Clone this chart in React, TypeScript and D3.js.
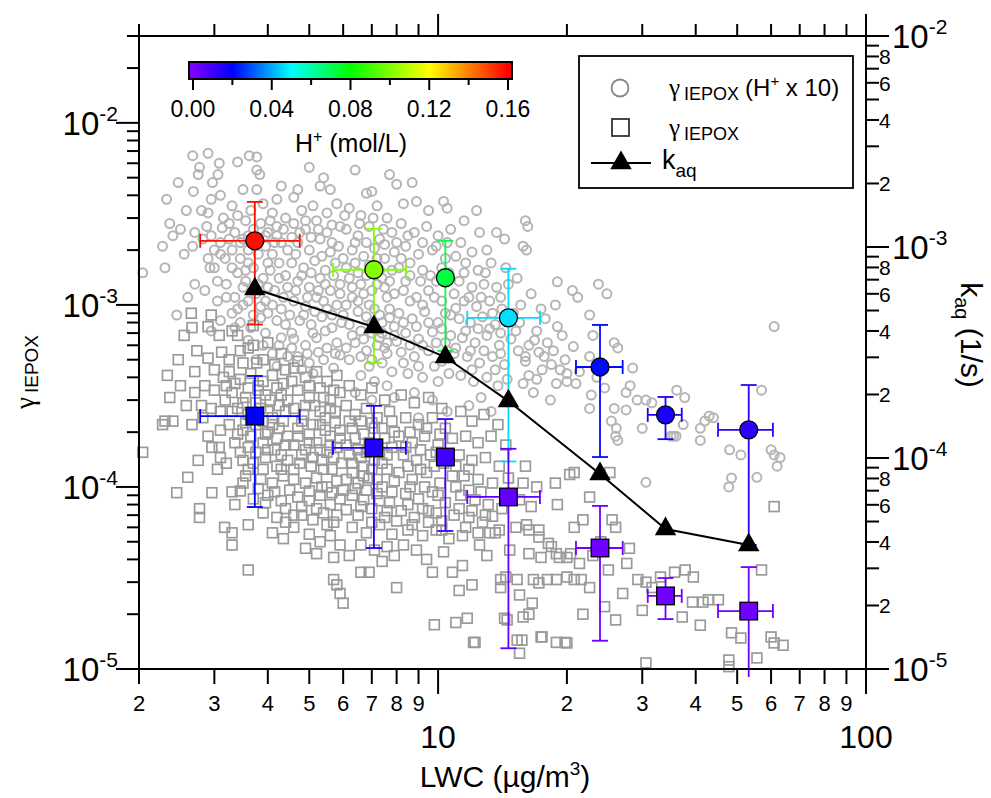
import React from 'react';
import * as d3 from 'd3';

const W = 991, H = 798;
const PL = 139, PR = 866, PT = 36, PB = 669;

// Mean values per LWC bin
const meanLWC = [3.73, 7.08, 10.4, 14.6, 23.9, 34.0, 53.2];
const lwcLow: (number | null)[] = [2.78, 5.68, null, 11.7, 21.0, 30.9, 45.1];
const lwcHigh: (number | null)[] = [4.75, 8.41, null, 17.3, 27.0, 37.1, 60.6];

const gammaH10 = [2.25e-3, 1.56e-3, 1.41e-3, 8.49e-4, 4.56e-4, 2.49e-4, 2.06e-4];
const gammaH10Low = [7.8e-4, 4.8e-4, 5.59e-4, 1.38e-4, 1.46e-4, 1.83e-4, 4.8e-5];
const gammaH10High = [3.68e-3, 2.62e-3, 2.25e-3, 1.58e-3, 7.76e-4, 3.12e-4, 3.63e-4];
const hplusH10 = [0.158, 0.1, 0.0725, 0.046, 0.021, 0.016, 0.0125];

const gammaMean = [2.45e-4, 1.64e-4, 1.46e-4, 8.81e-5, 4.62e-5, 2.52e-5, 2.08e-5];
const gammaLow = [7.76e-5, 4.62e-5, 5.73e-5, 1.3e-5, 1.43e-5, 1.88e-5, 9.0e-6];
const gammaHigh = [4.07e-4, 2.79e-4, 2.36e-4, 1.62e-4, 7.87e-5, 3.16e-5, 3.63e-5];
const hplusGamma = [0.02, 0.015, 0.01, 0.005, 0.0025, 0.0025, 0.0025];

const kaq = [6.32e-4, 4.18e-4, 3.01e-4, 1.86e-4, 8.4e-5, 4.61e-5, 3.87e-5];

// Individual observations: [LWC, gamma (H+ x 10)]
const bgCircles: [number, number][] = [
  [2.04,1.5e-3],[2.27,2.1e-3],[2.32,3.8e-3],[2.36,2.8e-3],[2.4,2.4e-3],[2.45,8.8e-4],[2.47,4.7e-3],[2.6,1.1e-3],[2.55,1.9e-3],[2.5,2.6e-3],[2.58,3.3e-3],[2.3,1.6e-3],
  [2.67,2.1e-3],[2.67,6.6e-3],[2.9,6.8e-3],[2.77,5.7e-3],[2.75,5.2e-3],[2.97,4.7e-3],[3.06,5.2e-3],[3.08,6.0e-3],[2.8,3.3e-3],[2.9,3.2e-3],[3.13,2.65e-3],[2.9,1.8e-3],[2.93,1.6e-3],[3.0,1.6e-3],[2.7,1.3e-3],[2.85,1.2e-3],[3.05,1.05e-3],[2.95,7.2e-4],[3.1,8.2e-4],[2.7,2.5e-3],[2.82,2.3e-3],[3.0,2.0e-3],[3.1,2.2e-3],[3.15,3.0e-3],[2.95,3.8e-3],[3.1,4.0e-3],[2.68,4.2e-3],[3.05,1.35e-3],[3.18,1.8e-3],[2.88,2.7e-3],
  [3.2,1.3e-3],[3.3,9.0e-4],[3.4,6.1e-3],[3.62,6.6e-3],[3.77,6.5e-3],[3.77,5.5e-3],[3.83,5.2e-3],[3.5,4.3e-3],[3.77,4.3e-3],[3.3,3.5e-3],[3.4,3.1e-3],[3.55,2.9e-3],[3.65,3.3e-3],[3.9,3.6e-3],[4.1,3.2e-3],[4.3,4.5e-3],[4.2,3.8e-3],[3.35,2.5e-3],[3.5,2.3e-3],[3.7,2.6e-3],[3.85,2.8e-3],[4.0,2.5e-3],[4.2,2.7e-3],[4.4,3.0e-3],[3.3,2.0e-3],[3.45,1.8e-3],[3.6,2.0e-3],[3.95,2.1e-3],[4.1,1.9e-3],[4.3,2.2e-3],[4.45,2.0e-3],[3.4,1.5e-3],[3.55,1.35e-3],[3.7,1.6e-3],[3.9,1.4e-3],[4.05,1.55e-3],[4.25,1.7e-3],[4.4,1.45e-3],[3.35,1.1e-3],[3.5,1.0e-3],[3.75,1.15e-3],[3.95,1.05e-3],[4.15,1.2e-3],[4.35,1.1e-3],[3.45,8.0e-4],[3.65,7.5e-4],[3.85,8.5e-4],[4.0,9.0e-4],[4.2,8.2e-4],[4.4,7.8e-4],[3.6,6.4e-4],[3.9,6.0e-4],[4.1,5.4e-4],[4.3,6.6e-4],[3.75,5.0e-4],[4.45,5.2e-4],[4.2,4.6e-4],[3.5,1.25e-3],[4.05,2.9e-3],
  [4.6,3.9e-3],[4.7,4.3e-3],[5.0,5.7e-3],[5.3,4.5e-3],[5.4,5.0e-3],[5.6,4.3e-3],[4.8,3.3e-3],[5.1,3.5e-3],[5.5,3.2e-3],[5.8,3.6e-3],[4.6,2.8e-3],[4.9,2.6e-3],[5.2,2.9e-3],[5.5,2.5e-3],[5.9,2.7e-3],[4.7,2.2e-3],[5.0,2.0e-3],[5.3,2.3e-3],[5.6,1.95e-3],[5.85,2.1e-3],[4.55,1.7e-3],[4.85,1.6e-3],[5.15,1.75e-3],[5.45,1.55e-3],[5.75,1.7e-3],[4.7,1.35e-3],[5.0,1.25e-3],[5.3,1.4e-3],[5.6,1.2e-3],[5.9,1.3e-3],[4.6,1.05e-3],[4.9,9.8e-4],[5.2,1.1e-3],[5.5,9.5e-4],[5.8,1.0e-3],[4.75,8.2e-4],[5.05,7.8e-4],[5.35,8.6e-4],[5.65,7.5e-4],[5.95,8.0e-4],[4.6,6.5e-4],[4.9,6.0e-4],[5.2,6.6e-4],[5.5,5.8e-4],[5.8,6.2e-4],[4.7,5.2e-4],[5.0,4.8e-4],[5.4,5.0e-4],[5.7,4.5e-4],[5.1,4.2e-4],[5.9,5.3e-4],[4.8,4.4e-4],
  [6.4,5.5e-3],[6.8,4.1e-3],[7.0,4.2e-3],[7.7,5.2e-3],[6.2,3.4e-3],[6.6,3.1e-3],[7.2,3.5e-3],[7.6,3.0e-3],[6.1,2.6e-3],[6.5,2.4e-3],[6.9,2.7e-3],[7.3,2.3e-3],[7.8,2.5e-3],[6.3,2.0e-3],[6.7,1.85e-3],[7.1,2.05e-3],[7.5,1.8e-3],[7.9,1.95e-3],[6.1,1.6e-3],[6.5,1.5e-3],[6.9,1.65e-3],[7.4,1.4e-3],[7.8,1.55e-3],[6.3,1.25e-3],[6.7,1.15e-3],[7.2,1.3e-3],[7.6,1.1e-3],[6.1,1.0e-3],[6.5,9.2e-4],[6.9,1.0e-3],[7.3,8.8e-4],[7.7,9.5e-4],[6.2,7.8e-4],[6.6,7.2e-4],[7.0,8.0e-4],[7.4,7.0e-4],[7.9,7.6e-4],[6.4,6.2e-4],[6.8,5.6e-4],[7.2,6.0e-4],[7.6,5.4e-4],[6.2,5.0e-4],[6.9,4.6e-4],[7.4,4.8e-4],[7.8,4.3e-4],[6.6,4.1e-4],[7.1,3.8e-4],[7.6,3.6e-4],[6.4,3.3e-4],[7.9,3.1e-4],[7.0,3.0e-4],
  [8.0,4.6e-3],[8.7,4.7e-3],[8.3,3.6e-3],[8.9,3.7e-3],[9.5,3.3e-3],[10.3,3.7e-3],[10.5,3.4e-3],[8.2,2.8e-3],[8.8,2.5e-3],[9.4,2.7e-3],[10.0,2.4e-3],[10.7,2.6e-3],[8.4,2.1e-3],[9.0,1.9e-3],[9.7,2.0e-3],[10.4,1.8e-3],[8.1,1.6e-3],[8.6,1.45e-3],[9.2,1.55e-3],[9.9,1.35e-3],[10.6,1.5e-3],[8.3,1.2e-3],[8.9,1.1e-3],[9.5,1.2e-3],[10.2,1.05e-3],[10.9,1.15e-3],[8.1,9.0e-4],[8.7,8.4e-4],[9.3,9.2e-4],[10.0,8.0e-4],[10.7,8.8e-4],[8.4,7.0e-4],[9.0,6.5e-4],[9.7,7.1e-4],[10.4,6.2e-4],[8.2,5.5e-4],[8.8,5.2e-4],[9.5,5.6e-4],[10.2,4.9e-4],[10.9,5.4e-4],[8.5,4.2e-4],[9.2,4.0e-4],[10.0,3.8e-4],[10.6,4.2e-4],[8.8,3.3e-4],[9.7,3.0e-4],[10.5,2.6e-4],[9.0,2.4e-4],
  [11.5,2.9e-3],[12.3,3.3e-3],[12.5,2.5e-3],[13.7,2.5e-3],[14.3,2.3e-3],[11.3,2.2e-3],[12.0,1.95e-3],[13.0,2.0e-3],[11.6,1.7e-3],[12.4,1.55e-3],[13.3,1.7e-3],[14.4,1.6e-3],[11.2,1.35e-3],[12.0,1.25e-3],[13.7,1.25e-3],[12.8,1.3e-3],[14.6,1.3e-3],[11.5,1.05e-3],[12.3,9.8e-4],[13.2,1.05e-3],[14.1,9.5e-4],[11.2,8.4e-4],[11.9,8.0e-4],[12.7,8.6e-4],[13.6,7.8e-4],[14.6,8.2e-4],[11.4,6.6e-4],[12.2,6.2e-4],[13.0,6.8e-4],[13.9,6.0e-4],[14.8,6.5e-4],[11.7,5.2e-4],[12.5,4.8e-4],[13.4,5.2e-4],[14.3,4.7e-4],[11.3,4.1e-4],[12.1,3.8e-4],[13.0,4.0e-4],[13.8,3.6e-4],[12.6,3.1e-4],[11.8,2.8e-4],[13.3,2.6e-4],[14.5,3.9e-4],
  [16.0,2.9e-3],[16.2,2.7e-3],[15.8,2.1e-3],[16.1,2.0e-3],[15.3,1.4e-3],[19.0,1.34e-3],[20.6,1.2e-3],[21.2,1.1e-3],[18.8,1.0e-3],[16.5,1.15e-3],[17.4,9.5e-4],[15.6,1.0e-3],[19.0,7.6e-4],[19.5,6.8e-4],[16.3,6.0e-4],[17.2,5.5e-4],[17.7,5.2e-4],[20.7,5.9e-4],[18.4,4.7e-4],[19.3,4.4e-4],[20.0,4.2e-4],[21.4,4.3e-4],[16.3,4.1e-4],[17.0,3.9e-4],[15.8,3.7e-4],[18.9,3.7e-4],[20.0,3.8e-4],[21.0,3.7e-4],[15.5,8.0e-4],[17.0,7.2e-4],[16.0,4.9e-4],[18.0,6.2e-4],[15.4,5.6e-4],[17.8,8.4e-4],[16.7,3.3e-4],[18.3,3.0e-4],
  [23.7,1.3e-3],[24.8,1.15e-3],[22.6,8.8e-4],[22.6,5.2e-4],[25.8,6.2e-4],[26.3,5.8e-4],[22.6,2.7e-4],[28.1,3.6e-4],[27.5,3.3e-4],[29.2,3.0e-4],[30.6,3.0e-4],[31.6,2.9e-4],[25.8,2.7e-4],[27.5,2.65e-4],[25.4,2.3e-4],[26.1,2.1e-4],[30.0,2.1e-4],[26.0,1.9e-4],[26.3,1.8e-4],[30.6,1.06e-4],[23.5,4.0e-4],[24.5,3.5e-4],[22.8,3.2e-4],[28.5,4.5e-4],[23.0,6.8e-4],
  [36.1,3.4e-4],[37.7,3.1e-4],[37.4,2.2e-4],[41.0,2.1e-4],[42.0,2.3e-4],[44.0,2.4e-4],[35.5,1.9e-4],[41.0,1.8e-4],[35.0,1.9e-4],[36.0,1.9e-4],[43.0,2.45e-4],
  [48,1.6e-4],[51,1.5e-4],[61,7.6e-4],[57,3.4e-4],[60,1.6e-4],[61,1.5e-4],[63,1.45e-4],[62,1.3e-4],[55.6,1.13e-4],[48.5,1.12e-4],[47.8,1.0e-4],
  [3.25,2.8e-3],[3.45,2.2e-3],[3.6,1.7e-3],[3.8,1.9e-3],[3.95,2.4e-3],[4.15,2.2e-3],[4.35,2.6e-3],[3.3,1.6e-3],[3.55,1.55e-3],[3.8,1.3e-3],[4.0,1.25e-3],[4.25,1.4e-3],[4.45,1.25e-3],[3.6,1.05e-3],[3.85,9.8e-4],[4.1,1.0e-3],[4.3,9.5e-4],[3.4,9.5e-4],[3.7,8.8e-4],[4.5,8.8e-4],[4.65,1.2e-3],[4.8,1.45e-3],[5.05,1.5e-3],[5.25,1.2e-3],[5.45,1.3e-3],[5.7,1.45e-3],[4.95,1.1e-3],[5.15,9.2e-4],[5.4,1.05e-3],[5.65,8.8e-4],[5.9,1.15e-3],[4.85,8.8e-4],[5.1,7.0e-4],[5.45,7.2e-4],[5.75,5.4e-4],[5.25,5.5e-4],[4.55,5.8e-4],[4.95,5.4e-4],[4.75,2.5e-3],[5.05,2.35e-3],[5.35,1.85e-3],[5.65,2.2e-3],[4.65,1.9e-3],
  [6.0,1.8e-3],[6.2,1.4e-3],[6.4,1.7e-3],[6.6,1.3e-3],[6.8,1.45e-3],[7.0,1.2e-3],[7.3,1.55e-3],[7.5,1.25e-3],[7.7,1.35e-3],[7.9,1.15e-3],[6.3,1.1e-3],[6.5,1.05e-3],[6.8,8.6e-4],[7.1,9.5e-4],[7.4,8.0e-4],[7.7,8.5e-4],[6.0,8.8e-4],[6.3,6.8e-4],[6.7,6.5e-4],[7.0,7.0e-4],[7.3,6.6e-4],[7.6,6.2e-4],[7.9,6.8e-4],[6.1,5.8e-4],[6.6,5.2e-4],[7.0,5.0e-4],[7.5,5.8e-4],[6.4,2.2e-3],[6.8,2.2e-3],[7.2,1.8e-3],[7.5,2.15e-3],
  [8.2,1.8e-3],[8.6,1.7e-3],[9.1,1.35e-3],[9.6,1.45e-3],[10.2,1.6e-3],[8.4,1.35e-3],[8.6,1.05e-3],[9.2,1.0e-3],[9.8,1.1e-3],[10.4,9.0e-4],[8.3,8.0e-4],[8.9,7.6e-4],[9.5,8.0e-4],[10.2,7.4e-4],[8.6,6.0e-4],[9.2,6.0e-4],[9.9,6.2e-4],[10.7,6.8e-4],[8.0,6.3e-4],[8.3,4.8e-4],[9.0,4.6e-4],[9.8,4.6e-4],[10.5,5.6e-4],
  [11.0,9.6e-4],[11.8,1.1e-3],[12.6,1.1e-3],[13.4,9.0e-4],[11.6,7.2e-4],[12.4,7.4e-4],[13.2,7.4e-4],[14.0,7.0e-4],[11.0,5.8e-4],[11.9,5.6e-4],[12.8,5.6e-4],[13.6,4.4e-4],[12.0,4.4e-4],[14.0,5.4e-4],[11.5,1.5e-3],[12.9,1.5e-3],[14.0,1.1e-3],[15.0,9.0e-4],[15.2,7.2e-4],[16.8,6.4e-4],[16.0,5.2e-4],[17.5,4.4e-4],[18.6,5.6e-4],[19.8,5.0e-4],
  [3.1,1.9e-3],[3.25,2.3e-3],[2.95,2.4e-3],[3.2,1.1e-3],[3.35,7.5e-4],[3.95,7.0e-4],[4.25,6.0e-4],[4.55,7.0e-4],[3.75,2.2e-3],[4.2,2.4e-3],[4.0,1.7e-3],[3.6,2.4e-3],[4.55,2.35e-3],[4.9,2.9e-3],[5.25,2.6e-3],[5.65,2.75e-3],[6.05,3.1e-3],[6.55,2.8e-3],[7.05,3.0e-3],[7.45,2.6e-3],[8.0,2.2e-3],[8.5,2.4e-3],[9.2,2.2e-3],[9.9,2.1e-3],[10.5,2.2e-3],[11.0,1.85e-3],
];

// Individual observations: [LWC, gamma]
const bgSquares: [number, number][] = [
  [2.04,1.55e-4],[2.27,2.2e-4],[2.3,2.3e-4],[2.4,2.3e-4],[2.33,4.1e-4],[2.47,5.0e-4],[2.36,3.1e-4],[2.6,1.13e-4],[2.45,9.3e-5],[2.55,6.8e-4],[2.5,3.6e-4],[2.58,2.8e-4],
  [2.66,2.2e-4],[2.77,7.6e-5],[2.77,6.8e-5],[3.17,6.0e-5],[2.96,9.3e-5],[2.73,5.6e-4],[2.9,5.1e-4],[2.66,7.5e-4],[2.9,7.6e-4],[3.08,6.8e-4],[2.85,3.6e-4],[3.0,3.4e-4],[2.9,1.9e-4],[2.96,1.65e-4],[3.08,1.65e-4],[2.7,4.3e-4],[2.8,2.8e-4],[3.1,2.6e-4],[3.15,4.0e-4],[2.75,1.4e-4],[3.05,1.25e-4],[2.65,9.0e-4],[2.95,8.8e-4],[3.12,5.5e-4],[2.82,2.4e-4],[3.18,3.0e-4],[2.7,3.3e-4],[3.1,1.45e-4],
  [3.3,9.4e-5],[3.35,8.0e-5],[3.2,1.35e-4],[3.5,1.4e-4],[3.4,6.8e-4],[3.5,4.8e-4],[3.77,4.8e-4],[3.7,7.7e-4],[3.3,7.2e-4],[3.6,5.8e-4],[4.0,6.2e-4],[4.3,5.4e-4],[3.25,4.3e-4],[3.45,3.9e-4],[3.65,4.2e-4],[3.9,3.8e-4],[4.1,4.1e-4],[4.35,3.7e-4],[3.3,3.3e-4],[3.55,3.1e-4],[3.8,3.4e-4],[4.05,3.0e-4],[4.3,3.2e-4],[3.4,2.7e-4],[3.6,2.5e-4],[3.85,2.7e-4],[4.1,2.4e-4],[4.4,2.6e-4],[3.25,2.2e-4],[3.5,2.05e-4],[3.75,2.2e-4],[4.0,2.0e-4],[4.25,2.1e-4],[4.45,1.9e-4],[3.35,1.75e-4],[3.6,1.65e-4],[3.9,1.75e-4],[4.15,1.6e-4],[4.4,1.7e-4],[3.7,1.35e-4],[3.95,1.45e-4],[4.2,1.3e-4],[4.45,1.4e-4],[3.55,1.15e-4],[3.85,1.1e-4],[4.1,1.05e-4],[4.35,1.15e-4],[3.45,9.5e-5],[3.7,8.6e-5],[4.0,9.0e-5],[4.3,8.4e-5],[3.9,7.2e-5],[4.2,6.8e-5],[4.4,7.6e-5],[3.6,6.2e-5],[4.1,5.6e-5],[4.35,5.2e-5],[3.8,3.6e-4],[3.9,2.3e-4],[3.3,5.6e-5],[3.6,3.5e-5],[3.3,4.8e-5],
  [4.6,4.5e-4],[4.9,4.0e-4],[5.2,4.3e-4],[5.5,3.8e-4],[5.8,4.1e-4],[4.7,3.4e-4],[5.0,3.1e-4],[5.3,3.5e-4],[5.6,3.0e-4],[5.9,3.3e-4],[4.6,2.7e-4],[4.85,2.5e-4],[5.15,2.8e-4],[5.45,2.4e-4],[5.75,2.6e-4],[4.7,2.1e-4],[5.0,1.95e-4],[5.3,2.2e-4],[5.6,1.9e-4],[5.9,2.05e-4],[4.6,1.7e-4],[4.9,1.6e-4],[5.2,1.75e-4],[5.5,1.55e-4],[5.8,1.65e-4],[4.75,1.35e-4],[5.05,1.3e-4],[5.35,1.4e-4],[5.65,1.25e-4],[5.95,1.35e-4],[4.6,1.1e-4],[4.9,1.05e-4],[5.2,1.12e-4],[5.5,1.0e-4],[5.8,1.08e-4],[4.7,8.8e-5],[5.0,8.4e-5],[5.3,9.0e-5],[5.6,8.0e-5],[5.9,8.6e-5],[4.8,7.0e-5],[5.1,6.6e-5],[5.4,7.2e-5],[5.7,6.4e-5],[4.6,6.0e-5],[5.0,5.5e-5],[5.3,5.0e-5],[5.6,5.4e-5],[5.9,4.8e-5],[5.2,4.3e-5],[5.7,4.1e-5],[4.9,4.6e-5],[5.7,3.1e-5],[5.9,2.6e-5],[6.0,2.3e-5],[5.8,2.9e-5],
  [6.2,3.6e-4],[6.6,3.2e-4],[7.0,3.5e-4],[7.5,3.0e-4],[6.1,2.8e-4],[6.4,2.5e-4],[6.8,2.7e-4],[7.2,2.4e-4],[7.7,2.6e-4],[6.3,2.1e-4],[6.7,1.95e-4],[7.1,2.1e-4],[7.5,1.85e-4],[7.9,2.0e-4],[6.1,1.7e-4],[6.5,1.6e-4],[6.9,1.75e-4],[7.3,1.55e-4],[7.8,1.65e-4],[6.3,1.35e-4],[6.7,1.3e-4],[7.1,1.4e-4],[7.6,1.25e-4],[6.1,1.1e-4],[6.5,1.05e-4],[6.9,1.12e-4],[7.4,1.0e-4],[7.9,1.08e-4],[6.3,9.0e-5],[6.7,8.5e-5],[7.2,9.2e-5],[7.7,8.2e-5],[6.1,7.5e-5],[6.5,7.0e-5],[7.0,7.6e-5],[7.5,6.8e-5],[6.3,6.0e-5],[6.8,5.6e-5],[7.3,6.2e-5],[7.8,5.5e-5],[6.6,4.8e-5],[7.1,4.5e-5],[7.6,4.7e-5],[6.6,3.4e-5],[6.9,3.4e-5],[8.0,2.8e-5],[6.2,4.2e-5],[7.4,3.9e-5],[7.9,4.2e-5],
  [8.2,3.2e-4],[8.8,2.9e-4],[9.5,3.1e-4],[10.2,2.7e-4],[8.4,2.4e-4],[9.0,2.2e-4],[9.7,2.4e-4],[10.4,2.1e-4],[8.1,1.9e-4],[8.7,1.75e-4],[9.3,1.9e-4],[10.0,1.7e-4],[10.8,1.85e-4],[8.3,1.5e-4],[8.9,1.4e-4],[9.6,1.5e-4],[10.3,1.35e-4],[8.1,1.2e-4],[8.7,1.1e-4],[9.4,1.2e-4],[10.1,1.05e-4],[10.8,1.15e-4],[8.4,9.2e-5],[9.0,8.6e-5],[9.7,9.4e-5],[10.4,8.2e-5],[8.2,7.4e-5],[8.8,6.8e-5],[9.5,7.4e-5],[10.2,6.5e-5],[10.9,7.0e-5],[8.5,5.8e-5],[9.2,5.4e-5],[9.9,5.8e-5],[10.6,5.2e-5],[8.9,4.5e-5],[9.7,3.4e-5],[10.8,3.4e-5],[9.8,1.75e-5],[10.3,4.4e-5],[8.3,4.8e-5],[9.4,4.0e-5],
  [11.4,3.7e-5],[11.2,2.7e-5],[12.0,2.9e-5],[11.0,1.8e-5],[11.7,1.9e-5],[12.2,1.4e-5],[14.3,1.9e-5],[14.0,3.1e-5],[14.4,3.2e-5],[14.0,2.8e-5],[13.6,5.6e-5],[13.9,5.8e-5],[12.1,1.4e-5],[14.5,1.86e-5],[11.3,2.6e-4],[12.0,2.3e-4],[12.8,2.5e-4],[13.8,2.2e-4],[11.6,1.9e-4],[12.4,1.75e-4],[13.3,1.9e-4],[14.4,1.7e-4],[11.2,1.5e-4],[12.0,1.4e-4],[12.9,1.45e-4],[13.9,1.3e-4],[11.5,1.15e-4],[12.4,1.1e-4],[13.4,1.05e-4],[14.6,1.12e-4],[11.3,9.0e-5],[12.2,8.5e-5],[13.1,8.0e-5],[14.1,7.6e-5],[11.8,6.8e-5],[12.7,6.4e-5],[13.4,6.9e-5],[11.4,5.4e-5],[12.5,4.8e-5],[13.0,4.2e-5],[14.7,4.5e-5],
  [15.3,3.1e-5],[15.5,2.55e-5],[16.7,3.1e-5],[17.2,2.97e-5],[18.0,3.1e-5],[18.9,3.1e-5],[20.0,3.2e-5],[20.8,3.1e-5],[21.6,3.1e-5],[16.3,2.0e-5],[16.6,2.3e-5],[16.1,6.2e-5],[17.2,5.8e-5],[16.3,4.3e-5],[17.4,4.1e-5],[18.4,4.7e-5],[19.2,4.1e-5],[20.4,4.3e-5],[21.4,3.8e-5],[15.7,1.44e-5],[15.5,1.22e-5],[17.5,1.5e-5],[18.9,1.4e-5],[19.8,1.4e-5],[21.8,2.0e-5],[20.8,6.0e-5],[21.8,6.6e-5],[18.8,1.05e-4],[20.3,1.17e-4],[20.8,1.2e-4],[18.9,4.3e-5],[20.0,4.1e-5],[15.2,6.0e-5],[16.3,5.8e-5],[17.2,5.3e-5],[18.1,4.9e-5],[15.8,1.93e-5],[15.3,1.44e-5],[17.4,1.5e-5],[20.0,1.39e-5],[16.0,1.3e-4],[17.0,1.0e-4],[15.5,8.5e-5],[16.5,7.8e-5],[19.0,8.0e-5],[15.8,1.05e-4],
  [22.6,2.8e-5],[22.6,8.8e-5],[25.2,1.2e-4],[25.5,6.6e-5],[26.0,6.0e-5],[26.0,1.86e-5],[27.6,3.8e-5],[29.3,3.1e-5],[30.6,3.0e-5],[31.6,2.8e-5],[30.0,2.1e-5],[30.6,1.08e-5],[24.0,5.0e-5],[23.0,4.2e-5],[25.0,3.5e-5],[27.0,2.6e-5],[28.0,4.6e-5],[24.5,2.2e-5],
  [33.1,3.2e-5],[37.8,3.5e-5],[39.5,3.2e-5],[35.7,3.4e-5],[39.3,2.33e-5],[41.6,2.33e-5],[42.8,2.4e-5],[45.2,2.4e-5],[37.2,1.93e-5],[41.0,1.74e-5],
  [57,3.5e-5],[61,7.8e-5],[48.5,1.58e-5],[51,1.48e-5],[60,1.5e-5],[61,1.39e-5],[64,1.35e-5],[55.6,1.15e-5],[47.8,1.12e-5],[47.8,1.03e-5],
  [3.35,3.7e-4],[3.6,3.5e-4],[3.95,3.2e-4],[4.2,3.5e-4],[4.45,3.0e-4],[3.5,2.9e-4],[3.75,2.9e-4],[4.0,2.6e-4],[4.25,2.8e-4],[3.3,2.6e-4],[3.55,2.25e-4],[3.8,2.4e-4],[4.1,2.2e-4],[4.35,2.3e-4],[3.4,1.95e-4],[3.65,1.9e-4],[3.95,1.95e-4],[4.2,1.85e-4],[3.45,1.55e-4],[3.75,1.55e-4],[4.0,1.6e-4],[4.3,1.5e-4],[3.6,1.25e-4],[3.9,1.25e-4],[4.3,1.25e-4],[4.6,1.25e-4],[4.8,1.5e-4],[5.1,1.45e-4],[5.4,1.25e-4],[5.7,1.45e-4],[4.7,1.9e-4],[5.0,1.75e-4],[5.3,1.6e-4],[5.6,1.7e-4],[5.9,1.85e-4],[4.8,2.3e-4],[5.1,2.2e-4],[5.45,2.05e-4],[5.75,2.25e-4],[4.9,2.8e-4],[5.3,2.6e-4],[5.6,2.7e-4],[5.0,9.5e-5],[5.35,1.0e-4],[5.65,9.3e-5],[6.0,9.6e-5],[4.8,7.8e-5],[5.2,7.6e-5],[5.5,6.2e-5],[5.8,7.0e-5],
  [6.2,1.5e-4],[6.6,1.45e-4],[7.0,1.25e-4],[7.4,1.35e-4],[6.3,1.2e-4],[6.7,1.15e-4],[7.2,1.1e-4],[6.4,1.85e-4],[6.8,1.55e-4],[7.2,1.7e-4],[7.6,1.5e-4],[6.2,2.3e-4],[6.6,2.3e-4],[7.0,2.25e-4],[7.4,2.1e-4],[7.8,2.3e-4],[6.4,9.8e-5],[6.8,9.6e-5],[7.3,8.4e-5],[7.8,9.4e-5],[6.6,7.8e-5],[7.0,6.4e-5],[7.6,7.4e-5],[8.0,6.5e-5],
  [8.5,1.3e-4],[9.1,1.25e-4],[9.8,1.3e-4],[8.6,1.0e-4],[9.3,1.0e-4],[10.0,9.0e-5],[8.5,8.0e-5],[9.2,7.6e-5],[9.9,7.2e-5],[8.7,6.2e-5],[9.5,6.4e-5],[10.2,5.8e-5],[8.4,1.65e-4],[9.1,1.6e-4],[9.9,1.55e-4],[8.6,2.0e-4],[9.4,2.1e-4],[10.1,1.95e-4],[11.0,1.3e-4],[11.8,1.25e-4],[11.0,1.0e-4],[11.8,9.6e-5],[12.6,9.4e-5],[11.2,7.6e-5],[12.0,7.4e-5],[12.9,7.0e-5],[11.6,6.0e-5],[12.4,5.6e-5],[13.2,5.6e-5],
  [3.1,2.05e-4],[3.2,3.6e-4],[2.95,2.7e-4],[3.0,4.4e-4],[3.25,5.0e-4],[3.45,5.6e-4],[3.7,6.0e-4],[3.9,5.0e-4],[4.15,4.7e-4],[4.4,4.4e-4],[4.55,3.8e-4],[4.7,4.9e-4],[5.0,3.6e-4],[5.4,3.1e-4],[5.7,3.4e-4],[3.5,1.05e-4],[3.8,9.8e-5],[4.15,9.4e-5],[4.5,9.6e-5],[3.95,8.2e-5],[4.4,6.4e-5],[4.6,7.0e-5],
];

const xTickValues = [2, 3, 4, 5, 6, 7, 8, 9, 10, 20, 30, 40, 50, 60, 70, 80, 90, 100];
const leftDecades = [-5, -4, -3, -2];
const rightDecades = [-5, -4, -3, -2];
const rightMinorLabels = [2, 4, 6, 8];
const cbTickValues = [0, 0.02, 0.04, 0.06, 0.08, 0.1, 0.12, 0.14, 0.16];
const cbLabelValues = [0, 0.04, 0.08, 0.12, 0.16];
const cbStops = [0, 0.02, 0.05, 0.08, 0.12, 0.14, 0.16];
const cbColors = ['#8000ff', '#0000ff', '#00ffff', '#00ff00', '#ffff00', '#ff8000', '#ff0000'];

const FONT = "'Liberation Sans', Arial, Helvetica, sans-serif";
const SERIF = "'Liberation Serif', 'DejaVu Serif', serif";

export default function App() {
  const x = d3.scaleLog().domain([2, 100]).range([PL, PR]);
  const yL = d3.scaleLog().domain([1e-5, 0.03]).range([PB, PT]);
  const yR = d3.scaleLog().domain([1e-5, 1e-2]).range([PB, PT]);
  const color = d3.scaleLinear<string>().domain(cbStops).range(cbColors).clamp(true);
  const cbX = d3.scaleLinear().domain([0, 0.16]).range([193, 508]);

  const leftTicks: { v: number; major: boolean; e: number }[] = [];
  leftDecades.forEach((e) => {
    for (let m = 1; m <= 9; m++) {
      const v = m * Math.pow(10, e);
      if (v <= 0.0300001) leftTicks.push({ v, major: m === 1, e });
    }
  });
  const rightTicks: { v: number; m: number; e: number }[] = [];
  rightDecades.forEach((e) => {
    for (let m = 1; m <= 9; m++) {
      const v = m * Math.pow(10, e);
      if (v <= 0.0100001) rightTicks.push({ v, m, e });
    }
  });

  const line = d3.line<number>().x((_, i) => x(meanLWC[i])).y((d) => yR(d));
  const tri = d3.symbol().type(d3.symbolTriangle).size(200)();

  const capV = 8;
  const capH = 7;

  const errBars = (ys: number[], lo: number[], hi: number[], hs: number[], key: string) =>
    meanLWC.map((lx, i) => {
      const c = color(hs[i]);
      const cx = x(lx);
      const cy = yL(ys[i]);
      const yl = lo[i] < 1e-5 ? yL(1e-5) + 8 : yL(lo[i]);
      const yh = yL(hi[i]);
      const parts: any[] = [];
      parts.push(<line key="v" x1={cx} x2={cx} y1={yh} y2={yl} />);
      parts.push(<line key="ct" x1={cx - capV} x2={cx + capV} y1={yh} y2={yh} />);
      if (lo[i] >= 1e-5) parts.push(<line key="cb" x1={cx - capV} x2={cx + capV} y1={yl} y2={yl} />);
      const xl = lwcLow[i], xh = lwcHigh[i];
      if (xl != null && xh != null) {
        parts.push(<line key="h" x1={x(xl)} x2={x(xh)} y1={cy} y2={cy} />);
        parts.push(<line key="cl" x1={x(xl)} x2={x(xl)} y1={cy - capH} y2={cy + capH} />);
        parts.push(<line key="cr" x1={x(xh)} x2={x(xh)} y1={cy - capH} y2={cy + capH} />);
      }
      return (
        <g key={key + i} stroke={c} strokeWidth={1.8} fill="none">
          {parts}
        </g>
      );
    });

  return (
    <svg width={W} height={H} viewBox={`0 0 ${W} ${H}`} style={{ position: 'absolute', left: 0, top: 0, background: '#fff' }} fontFamily={FONT}>
      <defs>
        <linearGradient id="cb" x1={cbX(0)} x2={cbX(0.16)} y1={0} y2={0} gradientUnits="userSpaceOnUse">
          {cbStops.map((s, i) => (
            <stop key={i} offset={s / 0.16} stopColor={cbColors[i]} />
          ))}
        </linearGradient>
      </defs>
      <rect x={0} y={0} width={W} height={H} fill="#fff" />

      {/* background observations */}
      <g fill="none" stroke="#b5b5b5" strokeWidth={2}>
        {bgCircles.map((d, i) => (
          <circle key={i} cx={x(d[0])} cy={yL(d[1])} r={4.5} />
        ))}
      </g>
      <g fill="none" stroke="#9a9a9a" strokeWidth={1.7}>
        {bgSquares.map((d, i) => (
          <rect key={i} x={x(d[0]) - 4.9} y={yL(d[1]) - 4.9} width={9.8} height={9.8} />
        ))}
      </g>

      {/* error bars */}
      {errBars(gammaH10, gammaH10Low, gammaH10High, hplusH10, 'c')}
      {errBars(gammaMean, gammaLow, gammaHigh, hplusGamma, 's')}

      {/* mean markers */}
      <g stroke="#000" strokeWidth={1.3}>
        {meanLWC.map((lx, i) => (
          <circle key={'mc' + i} cx={x(lx)} cy={yL(gammaH10[i])} r={9} fill={color(hplusH10[i])} />
        ))}
        {meanLWC.map((lx, i) => (
          <rect key={'ms' + i} x={x(lx) - 8.8} y={yL(gammaMean[i]) - 8.8} width={17.6} height={17.6} fill={color(hplusGamma[i])} />
        ))}
      </g>

      {/* k_aq line */}
      <path d={line(kaq) || ''} fill="none" stroke="#000" strokeWidth={2} />
      <g fill="#000">
        {kaq.map((k, i) => (
          <path key={'t' + i} d={tri || ''} transform={`translate(${x(meanLWC[i])},${yR(k)})`} />
        ))}
      </g>

      {/* axes frame */}
      <g stroke="#000" strokeWidth={2} fill="none">
        <line x1={PL} x2={PR} y1={PB} y2={PB} />
        <line x1={PL} x2={PR} y1={PT} y2={PT} />
        <line x1={PL} x2={PL} y1={PT} y2={PB} />
        <line x1={PR} x2={PR} y1={PT} y2={PB} />
        {xTickValues.map((v) => {
          const major = v === 10 || v === 100;
          return (
            <g key={'xt' + v}>
              <line x1={x(v)} x2={x(v)} y1={PB} y2={PB + (major ? 25 : 15)} />
              <line x1={x(v)} x2={x(v)} y1={PT} y2={PT - (major ? 22 : 12)} />
            </g>
          );
        })}
        {leftTicks.map((t, i) => (
          <line key={'lt' + i} x1={PL} x2={PL - (t.major ? 23 : 12)} y1={yL(t.v)} y2={yL(t.v)} />
        ))}
        {rightTicks.map((t, i) => (
          <line key={'rt' + i} x1={PR} x2={PR + (t.m === 1 ? 23 : 13)} y1={yR(t.v)} y2={yR(t.v)} />
        ))}
      </g>

      {/* x tick labels */}
      <g fill="#000" textAnchor="middle">
        {xTickValues.map((v) => {
          if (v === 10 || v === 100) {
            return (
              <text key={'xl' + v} x={x(v)} y={PB + 79} fontSize={32}>
                {v}
              </text>
            );
          }
          return (
            <text key={'xl' + v} x={x(v)} y={PB + 42} fontSize={22}>
              {v < 10 ? v : v / 10}
            </text>
          );
        })}
      </g>
      <text x={505} y={787} textAnchor="middle" fontSize={30} fill="#000">
        LWC (µg/m<tspan dy={-12} fontSize={19}>3</tspan>
        <tspan dy={12}>)</tspan>
      </text>

      {/* left tick labels */}
      <g fill="#000">
        {leftTicks.filter((t) => t.major).map((t) => (
          <text key={'ll' + t.e} x={118} y={yL(t.v) + 12} textAnchor="end" fontSize={33}>
            10<tspan dy={-14} fontSize={21}>{'-' + -t.e}</tspan>
          </text>
        ))}
      </g>
      <text transform={`translate(34,372) rotate(-90)`} textAnchor="middle" fill="#000">
        <tspan fontSize={27} fontFamily={SERIF}>γ</tspan>
        <tspan fontSize={19} dx={4} dy={4}>IEPOX</tspan>
      </text>

      {/* right tick labels */}
      <g fill="#000">
        {rightTicks.filter((t) => t.m === 1).map((t) => (
          <text key={'rl' + t.e} x={892} y={yR(t.v) + 12} fontSize={33}>
            10<tspan dy={-14} fontSize={21}>{'-' + -t.e}</tspan>
          </text>
        ))}
        {rightTicks.filter((t) => rightMinorLabels.includes(t.m)).map((t, i) => (
          <text key={'rm' + i} x={879} y={yR(t.v) + 8} fontSize={21}>
            {t.m}
          </text>
        ))}
      </g>
      <text transform={`translate(961,335) rotate(90)`} textAnchor="middle" fill="#000" fontSize={30}>
        k<tspan fontSize={20} dy={6}>aq</tspan>
        <tspan dy={-6}> (1/s)</tspan>
      </text>

      {/* colorbar */}
      <rect x={189} y={62} width={323} height={17} fill="url(#cb)" stroke="#000" strokeWidth={2} />
      <g stroke="#000" strokeWidth={2}>
        {cbTickValues.map((v, i) => (
          <line key={'cbt' + i} x1={cbX(v)} x2={cbX(v)} y1={79} y2={cbLabelValues.includes(v) ? 90 : 85} />
        ))}
      </g>
      <g fill="#000" textAnchor="middle" fontSize={23}>
        {cbLabelValues.map((v) => (
          <text key={'cbl' + v} x={cbX(v)} y={117}>
            {v.toFixed(2)}
          </text>
        ))}
      </g>
      <text x={351} y={152} textAnchor="middle" fontSize={25} fill="#000">
        H<tspan dy={-10} fontSize={16}>+</tspan>
        <tspan dy={10}> (mol/L)</tspan>
      </text>

      {/* legend */}
      <rect x={579} y={56} width={274} height={132} fill="#fff" stroke="#000" strokeWidth={1.8} />
      <circle cx={620} cy={88} r={8.5} fill="none" stroke="#888" strokeWidth={1.8} />
      <text x={669} y={96} fill="#000">
        <tspan fontSize={25} fontFamily={SERIF}>γ</tspan>
        <tspan fontSize={18} dx={4} dy={4}>IEPOX</tspan>
        <tspan fontSize={24} dx={6} dy={-4}>(H</tspan>
        <tspan fontSize={15} dy={-10}>+</tspan>
        <tspan fontSize={24} dy={10}> x 10)</tspan>
      </text>
      <rect x={612} y={119} width={17} height={17} fill="none" stroke="#333" strokeWidth={1.8} />
      <text x={669} y={136} fill="#000">
        <tspan fontSize={25} fontFamily={SERIF}>γ</tspan>
        <tspan fontSize={18} dx={4} dy={4}>IEPOX</tspan>
      </text>
      <line x1={591} x2={651} y1={163} y2={163} stroke="#000" strokeWidth={2} />
      <path d={tri || ''} transform="translate(621,163)" fill="#000" />
      <text x={662} y={169} fill="#000" fontSize={27}>
        k<tspan fontSize={19} dy={8}>aq</tspan>
      </text>
    </svg>
  );
}
